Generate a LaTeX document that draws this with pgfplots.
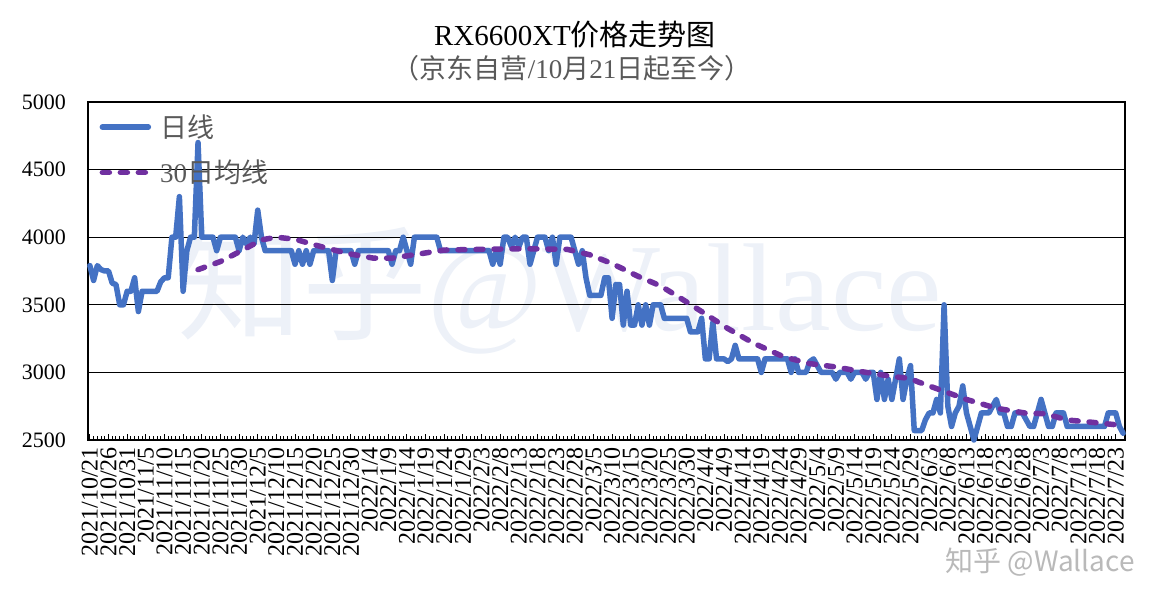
\documentclass[border=0pt]{standalone}
\usepackage{fontspec}
\setmainfont{Liberation Serif}
\newfontfamily\cjk{Noto Sans CJK SC}
\usepackage{pgfplots}
\usepackage{pgfplotstable}
\pgfplotsset{compat=1.18}
\definecolor{exblue}{RGB}{68,114,196}
\definecolor{expurple}{RGB}{112,48,160}
\definecolor{txtgrey}{RGB}{89,89,89}
\definecolor{wmark}{RGB}{237,241,248}

\pgfplotstableread{
p
3790
3680
3790
3760
3750
3750
3660
3650
3500
3500
3600
3600
3700
3450
3600
3600
3600
3600
3600
3670
3700
3700
4000
4000
4300
3600
3900
4000
4000
4700
4000
4000
4000
4000
3900
4000
4000
4000
4000
4000
3900
4000
3950
4000
3950
4200
4000
3900
3900
3900
3900
3900
3900
3900
3900
3800
3900
3800
3900
3800
3900
3900
3900
3900
3900
3680
3900
3900
3900
3900
3900
3800
3900
3900
3900
3900
3900
3900
3900
3900
3900
3800
3900
3900
4000
3900
3800
4000
4000
4000
4000
4000
4000
4000
3900
3900
3900
3900
3900
3900
3900
3900
3900
3900
3900
3900
3900
3900
3800
3900
3800
4000
4000
3930
4000
3930
4000
4000
3800
3900
4000
4000
4000
3900
4000
3800
4000
4000
4000
4000
3900
3800
3900
3700
3570
3570
3570
3570
3700
3700
3400
3650
3650
3350
3600
3350
3350
3500
3350
3500
3350
3500
3500
3500
3400
3400
3400
3400
3400
3400
3400
3300
3300
3300
3400
3100
3100
3370
3100
3100
3100
3080
3100
3200
3100
3100
3100
3100
3100
3100
3000
3100
3100
3100
3100
3100
3100
3100
3000
3100
3000
3000
3000
3080
3100
3050
3000
3000
3000
3000
2950
3000
3000
3000
2950
3000
3000
3000
2950
3000
3000
2800
3000
2800
2950
2800
2950
3100
2800
2950
3050
2570
2570
2570
2650
2700
2700
2800
2700
3500
2750
2600
2700
2750
2900
2700
2600
2500
2600
2700
2700
2700
2750
2800
2700
2700
2600
2600
2700
2700
2700
2650
2600
2600
2700
2800
2700
2600
2600
2700
2700
2700
2600
2600
2600
2600
2600
2600
2600
2600
2600
2600
2600
2700
2700
2700
2600
2550
}\daily

\pgfplotstableread{
x y
29 3760
35 3820
41 3905
46 3980
50 4000
55 3985
62 3930
69 3880
76 3845
81 3845
88 3875
95 3905
105 3910
117 3915
128 3910
134 3870
140 3805
147 3710
153 3640
158 3555
164 3450
171 3325
178 3215
186 3115
193 3065
200 3040
207 3005
215 2970
220 2955
222 2930
228 2870
235 2800
243 2735
251 2698
256 2695
262 2648
269 2630
276 2610
}\ma

\begin{document}
\begin{tikzpicture}[x=1bp,y=1bp]
\useasboundingbox (-88,-168) rectangle (1062,440);
\node[text=wmark, font=\fontsize{125bp}{130bp}\selectfont, inner sep=0pt] at (472,150) {{\cjk 知乎}@Wallace};
\begin{axis}[
  at={(0,0)}, anchor=south west,
  width=1037bp, height=338bp, scale only axis,
  xmin=-0.5, xmax=277.5, ymin=2500, ymax=5000,
  ytick={2500,3000,...,5000},
  ymajorgrids, grid style={black, line width=1.2bp},
  axis line style={black, line width=2.2bp},
  xtick={0,5,...,275},
  xticklabels={2021/10/21,2021/10/26,2021/10/31,2021/11/5,2021/11/10,2021/11/15,2021/11/20,2021/11/25,2021/11/30,2021/12/5,2021/12/10,2021/12/15,2021/12/20,2021/12/25,2021/12/30,2022/1/4,2022/1/9,2022/1/14,2022/1/19,2022/1/24,2022/1/29,2022/2/3,2022/2/8,2022/2/13,2022/2/18,2022/2/23,2022/2/28,2022/3/5,2022/3/10,2022/3/15,2022/3/20,2022/3/25,2022/3/30,2022/4/4,2022/4/9,2022/4/14,2022/4/19,2022/4/24,2022/4/29,2022/5/4,2022/5/9,2022/5/14,2022/5/19,2022/5/24,2022/5/29,2022/6/3,2022/6/8,2022/6/13,2022/6/18,2022/6/23,2022/6/28,2022/7/3,2022/7/8,2022/7/13,2022/7/18,2022/7/23},
  minor x tick num=4,
  tick align=inside,
  xtick pos=lower, ytick pos=left,
  ytick style={draw=none},
  major tick length=6bp, minor tick length=3.5bp,
  x tick style={black, line width=1bp},
  minor x tick style={black, line width=1bp},
  xticklabel style={rotate=90, anchor=east, inner sep=0pt, font=\fontsize{24bp}{24bp}\selectfont},
  xticklabel shift=7bp,
  yticklabel style={anchor=east, inner sep=0pt, font=\fontsize{22bp}{22bp}\selectfont},
  yticklabel shift=22bp,
  /pgf/number format/assume math mode=true,
  /pgf/number format/1000 sep={},
  scaled y ticks=false,
  clip=false,
  legend style={at={(0.011,0.968)}, anchor=north west, draw=none, fill=none,
    font=\cjk\fontsize{27bp}{30bp}\selectfont, text=txtgrey, row sep=17bp, column sep=7bp, inner sep=0pt},
  legend cell align=left,
  legend image code/.code={\draw[#1] (0bp,0bp) -- (46bp,0bp);},
]
\addplot[exblue, line width=5.5bp, line join=round, line cap=round] table[x expr=\coordindex, y=p]{\daily};
\addlegendentry{日线}
\addplot[expurple, line width=5.5bp, dash pattern=on 7bp off 11bp, line cap=round, line join=round] table[x=x, y=y]{\ma};
\addlegendentry{{\rmfamily 30}日均线}
\end{axis}
\node[font=\fontsize{29bp}{30bp}\selectfont] at (487,405) {RX6600XT{\cjk 价格走势图}};
\node[font=\fontsize{27bp}{30bp}\selectfont, text=txtgrey] at (484,372) {{\cjk （京东自营}/10{\cjk 月}21{\cjk 日起至今）}};
\node[text=gray!55, font=\cjk\fontsize{28bp}{30bp}\selectfont] at (952,-122) {知乎 @Wallace};
\end{tikzpicture}
\end{document}
